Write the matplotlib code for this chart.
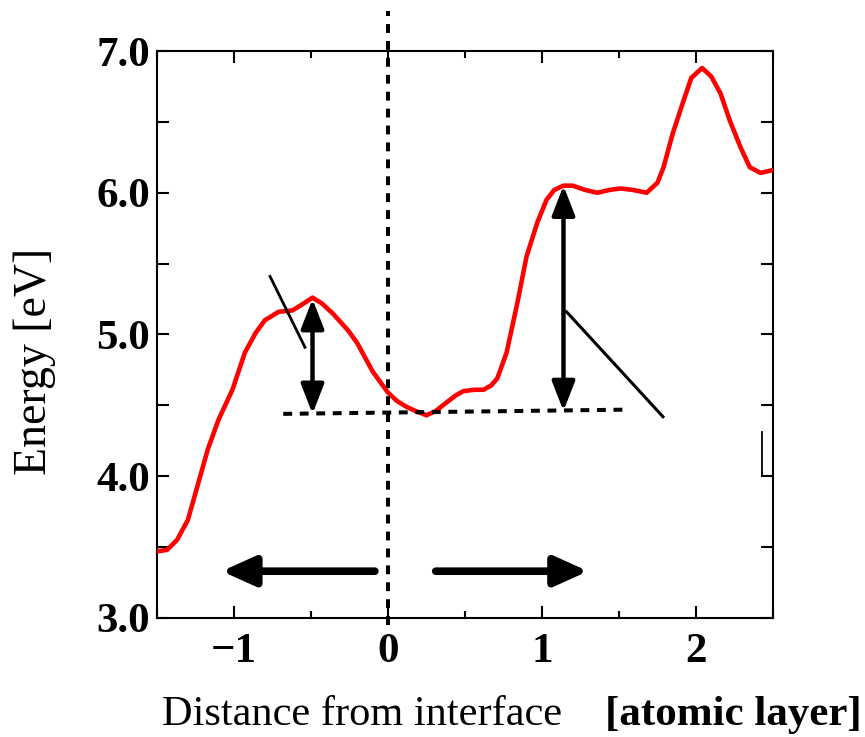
import matplotlib
matplotlib.use('Agg')
import matplotlib.pyplot as plt
from matplotlib.ticker import MultipleLocator, FormatStrFormatter

plt.rcParams['font.family'] = ['Liberation Serif', 'DejaVu Serif']

# Energy profile across the interface
dist = [-1.50, -1.435, -1.37, -1.30, -1.24, -1.17, -1.10, -1.01, -0.93, -0.86,
        -0.80, -0.71, -0.62, -0.56, -0.49, -0.43, -0.36, -0.26, -0.20, -0.10,
        0.00, 0.06, 0.12, 0.18, 0.25, 0.31, 0.38, 0.44, 0.49, 0.56,
        0.62, 0.67, 0.71, 0.77, 0.84, 0.90, 0.97, 1.03, 1.08, 1.14,
        1.20, 1.28, 1.36, 1.44, 1.51, 1.59, 1.68, 1.75, 1.79, 1.85,
        1.92, 1.97, 2.04, 2.10, 2.16, 2.22, 2.29, 2.35, 2.42, 2.50]
energy = [3.47, 3.48, 3.55, 3.69, 3.92, 4.19, 4.40, 4.61, 4.87, 5.01,
          5.10, 5.16, 5.17, 5.21, 5.26, 5.22, 5.15, 5.03, 4.94, 4.74,
          4.59, 4.53, 4.49, 4.46, 4.43, 4.46, 4.52, 4.57, 4.60, 4.61,
          4.61, 4.64, 4.69, 4.87, 5.22, 5.55, 5.79, 5.95, 6.02, 6.05,
          6.05, 6.02, 6.00, 6.02, 6.03, 6.02, 6.00, 6.07, 6.18, 6.42,
          6.65, 6.81, 6.88, 6.82, 6.70, 6.51, 6.32, 6.18, 6.14, 6.16]

# reference level and barrier heights
ref_x = [-0.68, 1.57]
ref_y = [4.44, 4.47]
barrier_left = (-0.49, 5.25, 4.44)
barrier_right = (1.14, 6.05, 4.46)

fig = plt.figure(figsize=(8.65, 7.37), dpi=100)
ax = fig.add_axes([0.1815, 0.1615, 0.712, 0.7693])

ax.plot(dist, energy, color='red', lw=3.3, solid_capstyle='round',
        solid_joinstyle='round', zorder=3)

# interface line and reference level
ax.plot([0, 0], [2.95, 7.28], color='black', lw=2.9, dashes=(2.2, 2.0),
        clip_on=False, zorder=4)
ax.plot(ref_x, ref_y, color='black', lw=2.9, dashes=(2.2, 1.9), zorder=4)

# barrier heights
for bx, top, bottom in [barrier_left, barrier_right]:
    ax.annotate('', xy=(bx, top), xytext=(bx, bottom),
                arrowprops=dict(arrowstyle='<|-|>,head_length=18,head_width=7',
                                mutation_scale=1, color='black', lw=3.2,
                                shrinkA=0, shrinkB=0), zorder=5)

# leader lines
ax.plot([-0.766, -0.539], [5.41, 4.91], color='black', lw=2.0, zorder=5)
ax.plot([1.16, 1.786], [5.16, 4.42], color='black', lw=2.2, zorder=5)
ax.plot([2.43, 2.43, 2.5], [4.31, 4.0, 4.0], color='black', lw=1.3, zorder=5)

# direction arrows
ax.annotate('', xy=(-1.08, 3.33), xytext=(-0.085, 3.33),
            arrowprops=dict(arrowstyle='-|>,head_length=20,head_width=9',
                            mutation_scale=1, color='black', lw=5.5,
                            shrinkA=0, shrinkB=0))
ax.annotate('', xy=(1.30, 3.33), xytext=(0.31, 3.33),
            arrowprops=dict(arrowstyle='-|>,head_length=20,head_width=9',
                            mutation_scale=1, color='black', lw=5.5,
                            shrinkA=0, shrinkB=0))

ax.set_xlim(-1.5, 2.5)
ax.set_ylim(3.0, 7.0)
ax.xaxis.set_major_locator(MultipleLocator(1))
ax.xaxis.set_minor_locator(MultipleLocator(0.5))
ax.yaxis.set_major_locator(MultipleLocator(1))
ax.yaxis.set_minor_locator(MultipleLocator(0.5))
ax.yaxis.set_major_formatter(FormatStrFormatter('%.1f'))
ax.tick_params(which='both', direction='in', top=True, right=True, width=1.5)
ax.tick_params(axis='y', which='both', length=8.5)
ax.tick_params(axis='x', which='major', length=8.5)
ax.tick_params(axis='x', which='minor', length=5)
ax.tick_params(axis='y', which='major', labelsize=31, pad=5)
ax.tick_params(axis='x', which='major', labelsize=31, pad=11)
for lab in ax.get_xticklabels() + ax.get_yticklabels():
    lab.set_fontweight('bold')
for s in ax.spines.values():
    s.set_linewidth(1.5)

fig.text(0.040, 0.509, 'Energy [eV]', rotation=90, fontsize=33,
         ha='center', va='center')
fig.text(0.187, 0.016, 'Distance from interface', fontsize=30.5,
         ha='left', va='baseline')
fig.text(0.699, 0.016, '[atomic layer]', fontsize=31, fontweight='bold',
         ha='left', va='baseline')

fig.savefig('out.png', dpi=100)
